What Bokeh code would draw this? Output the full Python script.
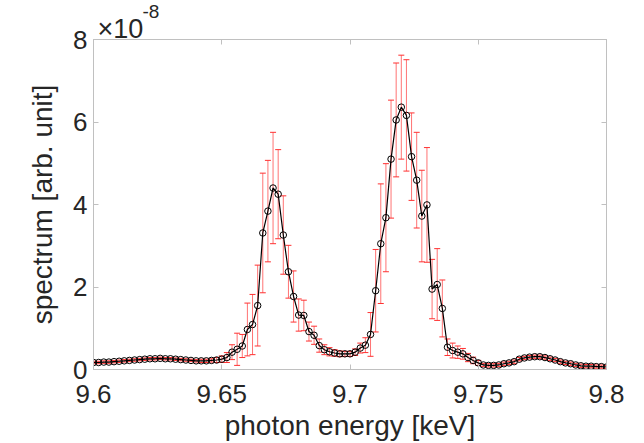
import numpy as np
from bokeh.plotting import figure
from bokeh.models import (LinearAxis, FixedTicker, Whisker, ColumnDataSource,
                          Title, TeeHead, Range1d)
from bokeh.embed import file_html
from bokeh.resources import INLINE

# photon energy grid [keV], 0.002 keV steps from 9.6 to 9.8
energy = np.round(np.linspace(9.6, 9.8, 101), 3)

# spectrum values in units of 1e-8 (arb. unit)
spectrum = [
    0.17, 0.17, 0.18, 0.18, 0.19, 0.20, 0.21, 0.22, 0.23, 0.24,
    0.25, 0.26, 0.26, 0.27, 0.26, 0.26, 0.25, 0.24, 0.23, 0.22,
    0.21, 0.21, 0.21, 0.22, 0.23, 0.25, 0.29, 0.42, 0.49, 0.57,
    0.97, 1.09, 1.55, 3.31, 3.84, 4.40, 4.25, 3.26, 2.37, 1.77,
    1.32, 1.31, 0.92, 0.83, 0.58, 0.48, 0.43, 0.40, 0.38, 0.38,
    0.38, 0.42, 0.52, 0.59, 0.85, 1.91, 3.05, 3.68, 5.10, 6.05,
    6.36, 6.16, 5.16, 4.59, 3.72, 3.99, 1.95, 2.06, 1.48, 0.54,
    0.46, 0.42, 0.38, 0.29, 0.22, 0.16, 0.11, 0.10, 0.10, 0.11,
    0.14, 0.16, 0.19, 0.25, 0.28, 0.30, 0.31, 0.31, 0.29, 0.26,
    0.23, 0.19, 0.16, 0.14, 0.11, 0.09, 0.08, 0.08, 0.07, 0.07,
    0.06,
]

# error bar half-lengths in units of 1e-8
error = [
    0.03, 0.03, 0.03, 0.03, 0.03, 0.03, 0.03, 0.03, 0.03, 0.03,
    0.03, 0.03, 0.03, 0.03, 0.03, 0.03, 0.03, 0.03, 0.03, 0.03,
    0.03, 0.04, 0.04, 0.04, 0.06, 0.08, 0.12, 0.18, 0.39, 0.28,
    0.64, 0.73, 0.98, 1.45, 1.23, 1.35, 1.08, 0.95, 0.64, 0.62,
    0.39, 0.37, 0.23, 0.22, 0.16, 0.12, 0.10, 0.08, 0.07, 0.06,
    0.06, 0.08, 0.12, 0.18, 0.53, 1.00, 1.45, 1.31, 1.43, 1.38,
    1.26, 1.35, 1.06, 1.16, 1.11, 1.39, 0.72, 0.87, 0.69, 0.20,
    0.18, 0.15, 0.13, 0.10, 0.08, 0.06, 0.04, 0.04, 0.04, 0.04,
    0.04, 0.04, 0.04, 0.04, 0.04, 0.04, 0.04, 0.04, 0.04, 0.04,
    0.04, 0.04, 0.04, 0.04, 0.04, 0.04, 0.04, 0.04, 0.04, 0.04,
    0.04,
]

x_ticks = [9.6, 9.65, 9.7, 9.75, 9.8]
x_tick_labels = ["9.6", "9.65", "9.7", "9.75", "9.8"]
y_ticks = [0, 2, 4, 6, 8]

FONT = "Liberation Sans"
TXT = "#262626"
AX = "#c0c0c0"

src = ColumnDataSource(dict(
    x=list(energy), y=spectrum,
    lo=[s - e for s, e in zip(spectrum, error)],
    hi=[s + e for s, e in zip(spectrum, error)],
))

p = figure(width=644, height=443, x_range=Range1d(9.6, 9.8), y_range=Range1d(0, 8),
           output_backend="svg", toolbar_location=None, title_location=None,
           min_border_left=93, min_border_right=38, min_border_top=39, min_border_bottom=74)
p.grid.visible = False
p.outline_line_color = AX
p.background_fill_color = "white"
p.border_fill_color = "white"

# error bars
wh = Whisker(source=src, base="x", lower="lo", upper="hi", dimension="height",
             line_color="#ff5a5a", line_width=1, line_alpha=0.85,
             upper_head=TeeHead(size=6, line_color="#ff3030", line_width=1),
             lower_head=TeeHead(size=6, line_color="#ff3030", line_width=1))
p.add_layout(wh)

p.line("x", "y", source=src, line_color="black", line_width=1.2)
p.scatter("x", "y", source=src, marker="circle", size=6.5, fill_color=None,
          line_color="black", line_width=1)

for ax in (p.xaxis[0], p.yaxis[0]):
    ax.axis_line_color = AX
    ax.major_tick_line_color = AX
    ax.major_tick_in = 5
    ax.major_tick_out = 0
    ax.minor_tick_line_color = None
    ax.major_label_text_font = FONT
    ax.major_label_text_font_size = "26px"
    ax.major_label_text_color = TXT
    ax.axis_label_text_font = FONT
    ax.axis_label_text_font_size = "28px"
    ax.axis_label_text_color = TXT
    ax.axis_label_text_font_style = "normal"

p.xaxis[0].ticker = FixedTicker(ticks=x_ticks)
p.xaxis[0].major_label_overrides = {t: l for t, l in zip(x_ticks, x_tick_labels)}
p.xaxis[0].axis_label = "photon energy [keV]"
p.xaxis[0].major_label_standoff = 15
p.xaxis[0].axis_label_standoff = 4

p.yaxis[0].ticker = FixedTicker(ticks=y_ticks)
p.yaxis[0].axis_label = "spectrum [arb. unit]"
p.yaxis[0].major_label_standoff = 6
p.yaxis[0].axis_label_standoff = 12

# mirrored axes (box ticks)
top = LinearAxis(ticker=FixedTicker(ticks=x_ticks))
right = LinearAxis(ticker=FixedTicker(ticks=y_ticks))
for ax in (top, right):
    ax.axis_line_color = AX
    ax.major_tick_line_color = AX
    ax.major_tick_in = 5
    ax.major_tick_out = 0
    ax.minor_tick_line_color = None
    ax.major_label_text_font_size = "0px"
    ax.major_label_text_color = None
    ax.major_label_standoff = 0
    ax.axis_label_standoff = 0
p.add_layout(top, "above")
p.add_layout(right, "right")

# exponent of the y axis: "×10" with a raised "-8"
t_base = Title(text="×10", align="left", offset=4, standoff=-8,
               text_font=FONT, text_font_size="27px", text_color=TXT,
               text_font_style="normal")
t_exp = Title(text="-8", align="left", offset=49, standoff=-4,
              text_font=FONT, text_font_size="19px", text_color=TXT,
              text_font_style="normal")
p.add_layout(t_base, "above")
p.add_layout(t_exp, "above")

open("out.html", "w").write(file_html(p, INLINE))
